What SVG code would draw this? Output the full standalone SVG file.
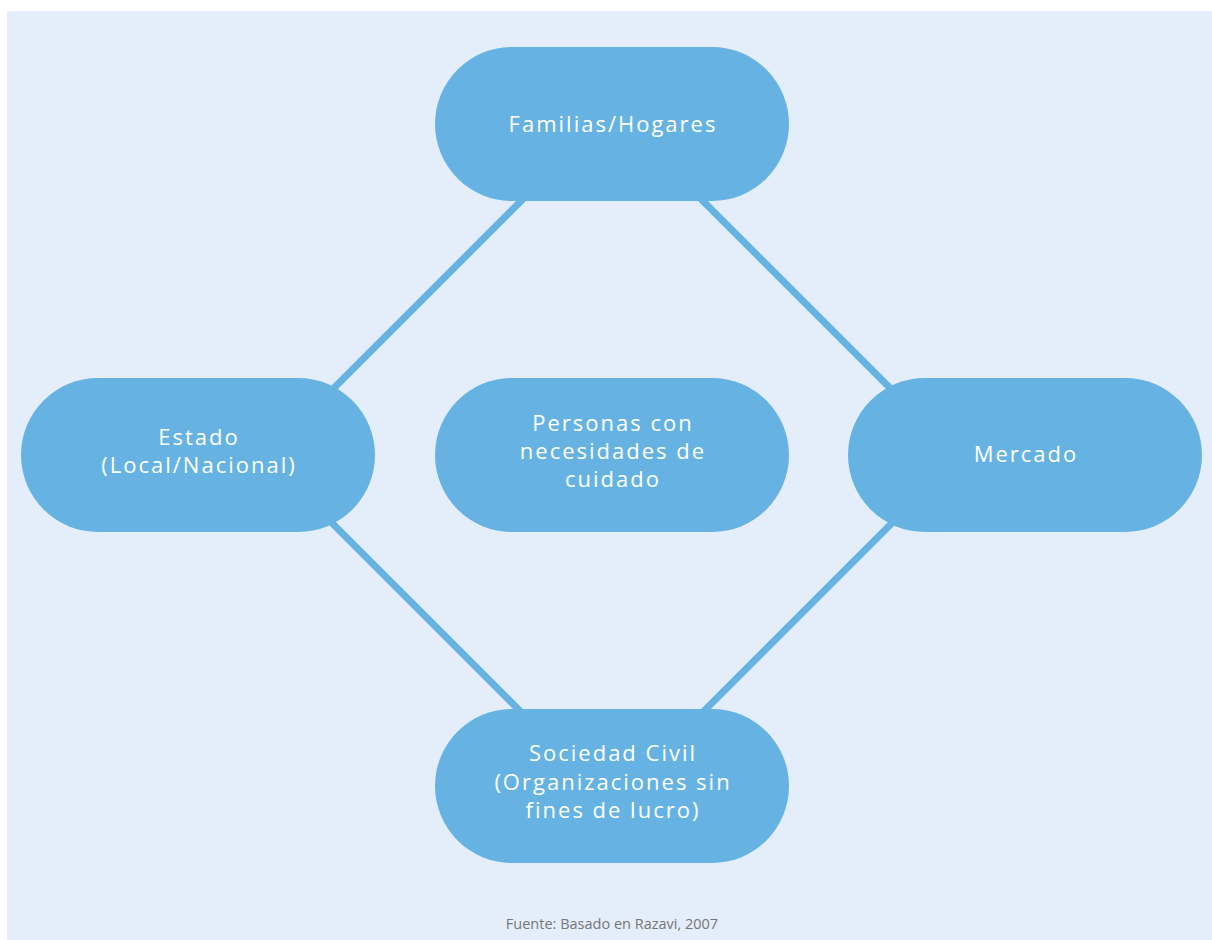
<svg xmlns="http://www.w3.org/2000/svg" width="1212" height="940" viewBox="0 0 1212 940">
<style>
.node{fill:#66b3e3}
.lbl{font-family:"Open Sans","Noto Sans",sans-serif;font-size:22px;fill:#ffffff;text-anchor:middle;letter-spacing:2px}
.edge{stroke:#66b3e3;stroke-width:7;fill:none}
.cap{font-family:"Open Sans","Noto Sans",sans-serif;font-size:14.5px;fill:#777777;text-anchor:middle}
</style>
<rect x="0" y="0" width="1212" height="940" fill="#ffffff"/>
<rect x="7" y="11" width="1205" height="929" fill="#e3eefa"/>
<g id="connectors">
<line class="edge" x1="534" y1="188" x2="318" y2="404"/>
<line class="edge" x1="690" y1="188" x2="906" y2="404"/>
<line class="edge" x1="318" y1="509" x2="534" y2="725"/>
<line class="edge" x1="906" y1="509" x2="690" y2="725"/>
</g>
<g id="familias">
<rect class="node" x="435" y="47" width="354" height="154" rx="77"/>
<text class="lbl" x="613" y="131.5">Familias/Hogares</text>
</g>
<g id="estado">
<rect class="node" x="21" y="378" width="354" height="154" rx="77"/>
<text class="lbl" x="199" y="444.5">Estado</text>
<text class="lbl" x="199" y="472.5">(Local/Nacional)</text>
</g>
<g id="personas">
<rect class="node" x="435" y="378" width="354" height="154" rx="77"/>
<text class="lbl" x="613" y="430.5">Personas con</text>
<text class="lbl" x="613" y="458.5">necesidades de</text>
<text class="lbl" x="613" y="487">cuidado</text>
</g>
<g id="mercado">
<rect class="node" x="848" y="378" width="354" height="154" rx="77"/>
<text class="lbl" x="1026" y="461.5">Mercado</text>
</g>
<g id="sociedad">
<rect class="node" x="435" y="709" width="354" height="154" rx="77"/>
<text class="lbl" x="613" y="761">Sociedad Civil</text>
<text class="lbl" x="613" y="789.5">(Organizaciones sin</text>
<text class="lbl" x="613" y="818">fines de lucro)</text>
</g>
<text class="cap" x="612" y="929">Fuente: Basado en Razavi, 2007</text>
</svg>
